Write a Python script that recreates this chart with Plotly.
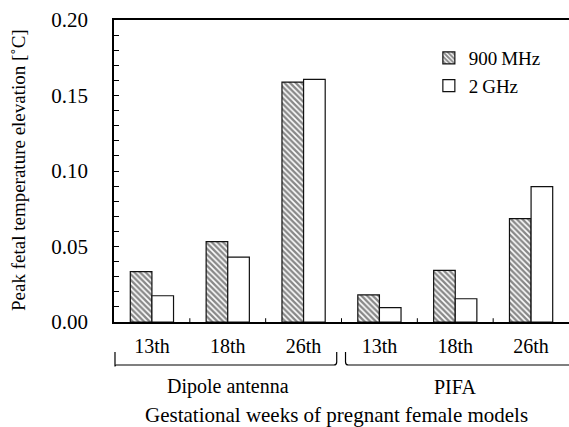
import plotly.graph_objects as go

categories = ["13th", "18th", "26th", "13th ", "18th ", "26th "]
tick_labels = ["13th", "18th", "26th", "13th", "18th", "26th"]
groups = ["Dipole antenna", "PIFA"]
mhz900 = [0.0333, 0.0532, 0.1589, 0.0179, 0.0342, 0.0684]
ghz2 = [0.0174, 0.0430, 0.1607, 0.0095, 0.0154, 0.0896]

FONT = "Liberation Serif"
idx = list(range(len(categories)))

fig = go.Figure()
fig.add_trace(go.Bar(
    x=idx, y=mhz900, name="900\u2009MHz",
    marker=dict(color="white", line=dict(color="#111", width=1.2),
                pattern=dict(shape="\\", fgcolor="#111", bgcolor="white", size=4, solidity=0.6)),
))
fig.add_trace(go.Bar(
    x=idx, y=ghz2, name="2\u2009GHz",
    marker=dict(color="white", line=dict(color="#111", width=1.2)),
))

fig.update_layout(
    width=569, height=427,
    margin=dict(l=114, r=0, t=20, b=105),
    paper_bgcolor="white", plot_bgcolor="white",
    barmode="group", bargap=0.43, bargroupgap=0,
    font=dict(family=FONT, size=20, color="black"),
    showlegend=True,
    legend=dict(x=0.692, y=0.937, xanchor="left", yanchor="top",
                font=dict(size=19), bgcolor="rgba(0,0,0,0)"),
)
fig.update_xaxes(
    range=[-0.5, 5.5], tickvals=idx, ticktext=tick_labels, tickfont=dict(size=20),
    showline=True, linecolor="black", linewidth=1.5, mirror=True,
    ticks="", showgrid=False, zeroline=False, ticklabelstandoff=5,
)
fig.update_yaxes(
    range=[0, 0.2], tickvals=[0, 0.05, 0.1, 0.15, 0.2], tickformat=".2f", tickfont=dict(size=21),
    showline=True, linecolor="black", linewidth=1.5,
    ticks="inside", ticklen=5, tickwidth=1, tickcolor="black",
    minor=dict(dtick=0.01, ticks="inside", ticklen=5, tickwidth=1, tickcolor="black"),
    showgrid=False, zeroline=False, ticklabelstandoff=20,
)

shapes = []
# short boundary ticks on x axis
for b in range(1, len(categories)):
    shapes.append(dict(type="line", xref="x", yref="y", x0=b - 0.5, x1=b - 0.5,
                       y0=0, y1=0.0025, line=dict(color="black", width=1)))

def ypix(p):
    return (322 - p) / 302

yb = ypix(365)
yt = ypix(352)
shapes.append(dict(type="path", xref="x", yref="paper",
                   path=f"M -0.487,{yt} L -0.487,{yb-0.005} Q -0.487,{yb} -0.47,{yb} L 2.40,{yb} Q 2.437,{yb} 2.437,{yb+0.01} L 2.437,{yt}",
                   line=dict(color="black", width=1.2)))
shapes.append(dict(type="path", xref="x", yref="paper",
                   path=f"M 2.553,{yt} L 2.553,{yb+0.01} Q 2.553,{yb} 2.59,{yb} L 5.6,{yb}",
                   line=dict(color="black", width=1.2)))
fig.update_layout(shapes=shapes)

plot_w = 569 - 114
ann = [
    dict(x=1, y=ypix(386.7), xref="x", yref="paper", text=groups[0], showarrow=False,
         font=dict(size=20), yanchor="middle"),
    dict(x=4, y=ypix(386.7), xref="x", yref="paper", text=groups[1], showarrow=False,
         font=dict(size=20), yanchor="middle"),
    dict(x=2.43, y=ypix(415), xref="x", yref="paper", text="Gestational weeks of pregnant female models",
         showarrow=False, font=dict(size=21), yanchor="middle", borderpad=0),
    dict(x=(18 - 114) / plot_w, y=(322 - 170) / 302, xref="paper", yref="paper",
         text="Peak fetal temperature elevation [\u02daC]", textangle=-90, showarrow=False,
         font=dict(size=19), xanchor="center", yanchor="middle"),
]
fig.update_layout(annotations=ann)

fig.write_html("out.html")
